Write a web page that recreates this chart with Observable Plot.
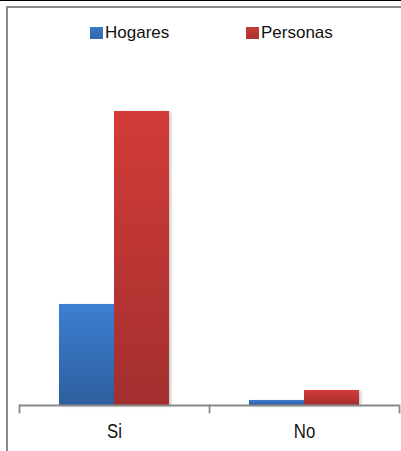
<!DOCTYPE html>
<html>
<head>
<meta charset="utf-8">
<script src="https://cdn.jsdelivr.net/npm/d3@7"></script>
<script src="https://cdn.jsdelivr.net/npm/@observablehq/plot@0.6"></script>
<style>
  html, body { margin: 0; padding: 0; background: #fff; }
  body { width: 401px; height: 451px; position: relative; overflow: hidden; font-family: "Liberation Sans", Arial, sans-serif; }
  #topline { position: absolute; left: 0; top: 0; width: 401px; height: 1px; background: #000; }
  #frame { position: absolute; left: 6px; top: 6px; width: 420px; height: 460px; border-left: 2px solid #8a8a8a; border-top: 2px solid #8a8a8a; box-sizing: border-box; }
  #legend { position: relative; height: 55px; }
  .item { position: absolute; top: 23px; display: flex; align-items: center; font-size: 17px; color: #111; line-height: 20px; }
  .sw { width: 13px; height: 12px; margin-right: 2px; }
  #chart { position: relative; }
  #chart g[aria-label="bar"] { filter: drop-shadow(2px 1px 1.5px rgba(0,0,0,0.22)); }
</style>
</head>
<body>
<div id="topline"></div>
<div id="frame"></div>
<div id="legend"></div>
<div id="chart"></div>
<script>
const categories = ["Si", "No"];
const series = ["Hogares", "Personas"];
const hogares = [101, 5];
const personas = [294, 15];
const legendColors = ["#3a78c8", "#c83a36"];

const data = [];
categories.forEach((c, i) => {
  data.push({cat: c, serie: series[0], value: hogares[i]});
  data.push({cat: c, serie: series[1], value: personas[i]});
});

// legend
const legend = document.getElementById("legend");
const lefts = [90, 246];
series.forEach((s, i) => {
  const it = document.createElement("div");
  it.className = "item";
  it.style.left = lefts[i] + "px";
  it.innerHTML = `<span class="sw" style="background:linear-gradient(${legendColors[i]}, ${d3.color(legendColors[i]).darker(0.4)})"></span><span>${s}</span>`;
  legend.appendChild(it);
});

const axisColor = "#8a8a8a";
const plot = Plot.plot({
  width: 401,
  height: 396,
  marginLeft: 19,
  marginRight: 2,
  marginTop: 56,
  marginBottom: 46,
  style: {fontFamily: "Liberation Sans, Arial, sans-serif", fontSize: "17px", color: "#111", background: "transparent", overflow: "visible"},
  fx: {domain: categories, paddingInner: 0, paddingOuter: 0, label: null},
  x: {domain: series, paddingInner: 0, paddingOuter: 40 / 55, axis: null},
  y: {domain: [0, 294], axis: null},
  color: {domain: series, range: ["url(#gradH)", "url(#gradP)"]},
  marks: [
    Plot.barY(data, {fx: "cat", x: "serie", y: "value", fill: "serie"}),
    Plot.ruleY([0], {stroke: axisColor, strokeWidth: 1.8}),
    Plot.frame({anchor: "left", stroke: axisColor, strokeWidth: 1.8, insetTop: 294, insetBottom: -7}),
    Plot.frame({anchor: "right", facetAnchor: "right", stroke: axisColor, strokeWidth: 1.8, insetTop: 294, insetBottom: -7}),
    Plot.axisFx({anchor: "bottom", tickSize: 0, tickPadding: 18, fontSize: 20, label: null})
  ]
});

const svg = d3.select(plot);
const defs = svg.insert("defs", ":first-child");
const gH = defs.append("linearGradient").attr("id", "gradH").attr("x1", 0).attr("y1", 0).attr("x2", 0).attr("y2", 1);
gH.append("stop").attr("offset", "0%").attr("stop-color", "#3d7fd1");
gH.append("stop").attr("offset", "100%").attr("stop-color", "#2d5e9e");
const gP = defs.append("linearGradient").attr("id", "gradP").attr("x1", 0).attr("y1", 0).attr("x2", 0).attr("y2", 1);
gP.append("stop").attr("offset", "0%").attr("stop-color", "#d23c38");
gP.append("stop").attr("offset", "100%").attr("stop-color", "#a32f2f");

// emulate the narrow face of the axis labels
svg.selectAll('g[aria-label="fx-axis tick label"] text').each(function() {
  const t = this.getAttribute("transform") || "";
  this.setAttribute("transform", t + " scale(0.84,1)");
});

document.getElementById("chart").appendChild(plot);
</script>
</body>
</html>
